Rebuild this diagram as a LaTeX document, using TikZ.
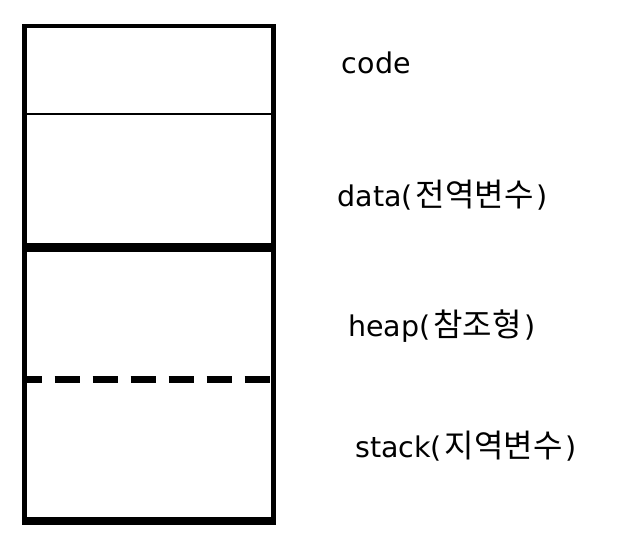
\documentclass[tikz,border=0pt]{standalone}
\usepackage{fontspec}
\setmainfont{DejaVu Sans}
\newfontfamily\kr{Noto Sans CJK KR}
\newcommand{\hg}[1]{\hspace{3pt}{\kr\fontsize{32}{34}\selectfont #1}\hspace{3pt}}
\begin{document}
\begin{tikzpicture}[x=1pt,y=-1pt,
  lbl/.style={anchor=base west,inner sep=0pt,font=\fontsize{28.5}{31}\selectfont},
  border/.style={line width=4.6pt},
  thinsep/.style={line width=1.7pt},
  thicksep/.style={line width=9pt},
  dashsep/.style={line width=7pt,dash pattern=on 25pt off 13pt,dash phase=10pt}]
\useasboundingbox[fill=white] (0,0) rectangle (642,544);
\draw[border] (24.3,26) rectangle (273.7,521);
\draw[line width=7.3pt] (22,521) -- (276,521);
\draw[thinsep] (24.3,114) -- (273.7,114);
\draw[thicksep] (24.3,247.3) -- (273.7,247.3);
\draw[dashsep] (26.7,379) -- (271.3,379);
\node[lbl] (code) at (341.7,73.3) {code};
\node[lbl] (data) at (337.3,206) {data(\hg{전역변수})};
\node[lbl] (heap) at (348,336.7) {heap(\hg{참조형})};
\node[lbl] (stack) at (355,457.7) {stack(\hg{지역변수})};
\end{tikzpicture}
\end{document}
